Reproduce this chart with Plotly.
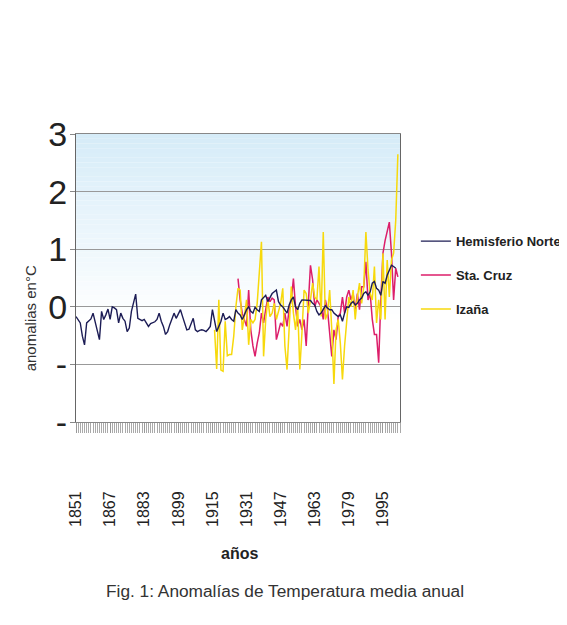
import plotly.graph_objects as go

# ---------------- data ----------------
years_nh = list(range(1851, 2002))
nh = [-0.17, -0.22, -0.28, -0.51, -0.66, -0.28, -0.24, -0.21, -0.11, -0.28,
      -0.43, -0.57, -0.08, -0.22, -0.14, -0.04, -0.22, 0.00, -0.02, -0.05,
      -0.28, -0.11, -0.20, -0.25, -0.43, -0.37, -0.08, 0.09, 0.22, -0.20,
      -0.22, -0.24, -0.22, -0.28, -0.34, -0.29, -0.28, -0.26, -0.22, -0.11,
      -0.25, -0.34, -0.48, -0.43, -0.31, -0.20, -0.11, -0.20, -0.11, -0.05,
      -0.17, -0.28, -0.40, -0.39, -0.28, -0.20, -0.40, -0.43, -0.41, -0.40,
      -0.41, -0.43, -0.39, -0.34, -0.05, -0.25, -0.43, -0.34, -0.25, -0.11,
      -0.22, -0.20, -0.17, -0.22, -0.25, -0.05,
      -0.11, -0.14, -0.22, -0.14, -0.05, 0.00, -0.08, -0.11, -0.01, -0.05,
      -0.08, 0.12, 0.17, 0.20, 0.09, 0.15, 0.23, 0.26, 0.29, 0.09,
      0.03, 0.00, -0.05, -0.11, 0.03, 0.12, 0.17, 0.00, -0.05, 0.06,
      0.12, 0.12, 0.12, 0.12, 0.11, 0.06, 0.03, -0.08, -0.14, -0.11,
      -0.05, 0.02, -0.02, -0.05, -0.05, -0.11, -0.14, -0.17, -0.14, -0.25,
      -0.11, 0.00, -0.01, 0.06, 0.09, 0.03, 0.06, 0.12, 0.15, 0.23,
      0.26, 0.20, 0.26, 0.41, 0.44, 0.32, 0.29, 0.20, 0.44, 0.41,
      0.55, 0.64, 0.72, 0.70, 0.67]

years_sc = list(range(1927, 2003))
sta_cruz = [0.49, 0.12, -0.11, -0.22, -0.34, 0.29, -0.40, -0.68, -0.86, -0.63,
            -0.45, -0.11, -0.28, -0.05, 0.17, 0.09, 0.15, 0.12, -0.57, -0.43,
            -0.28, -0.34, -0.11, -0.34, -0.05, 0.12, 0.49, 0.00, -0.34, -0.22,
            -0.40, -0.22, -0.68, 0.06, 0.72, 0.47, 0.00, 0.12, 0.06, 0.00,
            -0.22, 0.12, -0.05, -0.40, -0.86, -0.40, -0.57, -0.17, -0.11, 0.17,
            -0.11, 0.17, 0.29, 0.12, 0.23, -0.05, 0.23, -0.05, 0.35, 0.35,
            0.78, 0.12, 0.23, -0.22, -0.48, -0.48, -0.97, 0.12, 0.93, 1.15,
            1.33, 1.47, 0.93, 0.12, 0.67, 0.52]

years_iz = list(range(1916, 2003))
izana = [-0.40, -1.08, 0.12, -1.10, -1.12, -0.25, -0.85, -0.83, -0.83, -0.51,
         0.00, 0.32, 0.29, -0.40, -0.17, 0.12, -0.66, -0.22, -0.28, -0.22,
         0.06, 0.64, 1.13, -0.86, -0.22, 0.12, -0.17, -0.11, 0.06, -0.22,
         -0.05, 0.06, 0.32, -0.68, -1.09, -0.22, 0.35, -0.11, -0.40, 0.00,
         -1.09, -0.45, 0.29, 0.23, -0.11, 0.12, 0.41, 0.17, 0.12, 0.70,
         -0.17, 1.30, -0.22, -0.11, 0.29, -0.40, -1.34, -0.40, -0.22, -0.63,
         -1.26, -0.68, -0.22, 0.17, 0.00, 0.29, -0.22, 0.17, 0.41, 0.06,
         0.35, 1.30, 0.64, 0.23, 0.12, 0.70, -0.28, 0.12, -0.22, 0.93,
         -0.22, 0.81, 0.17, 0.81, 0.93, 1.50, 2.65]

tick_years = [1851, 1867, 1883, 1899, 1915, 1931, 1947, 1963, 1979, 1995]
y_ticks = [-2, -1, 0, 1, 2, 3]
y_ticktext = ["-", "-", "0", "1", "2", "3"]

# ---------------- figure ----------------
fig = go.Figure()

fig.add_trace(go.Scatter(x=years_sc, y=sta_cruz, mode="lines", name="Sta. Cruz",
                         legendgroup="sc", legendrank=2,
                         line=dict(color="#dc1e6a", width=1.5)))
fig.add_trace(go.Scatter(x=years_iz, y=izana, mode="lines", name="Izaña",
                         legendgroup="iz", legendrank=3,
                         line=dict(color="#f7d90c", width=1.5)))
fig.add_trace(go.Scatter(x=years_nh, y=nh, mode="lines", name="Hemisferio Norte",
                         legendgroup="nh", legendrank=1,
                         line=dict(color="#1c1c55", width=1.4)))

# gradient background (light blue at top fading to white)
n = 40
top, bot = 3.0, -0.3
for i in range(n):
    y1 = top - (top - bot) * i / n
    y0 = top - (top - bot) * (i + 1) / n
    t = i / (n - 1)
    r = round(214 + (255 - 214) * t)
    g = round(236 + (255 - 236) * t)
    b = round(248 + (255 - 248) * t)
    fig.add_shape(type="rect", xref="paper", yref="y", x0=0, x1=1, y0=y0, y1=y1,
                  fillcolor=f"rgb({r},{g},{b})", line=dict(width=0), layer="below")

# faint scan border line at top
fig.add_shape(type="line", xref="paper", yref="paper", x0=-0.3, x1=1.6,
              y0=1.448, y1=1.448, line=dict(color="#bbbbbb", width=1))

fig.update_layout(
    width=567, height=625,
    margin=dict(l=68, r=175, t=126, b=211, autoexpand=False),
    paper_bgcolor="white", plot_bgcolor="white",
    font=dict(family="Liberation Sans, Arial, sans-serif", color="#222"),
    showlegend=True,
    legend=dict(x=1.049, xanchor="left", y=0.68, yanchor="top",
                font=dict(family="Liberation Sans, Arial", size=13,
                          color="#222", weight="bold"),
                itemwidth=30, traceorder="grouped", tracegroupgap=14,
                bgcolor="rgba(0,0,0,0)"),
    xaxis=dict(range=[1851, 2003], tickmode="array", tickvals=tick_years,
               ticktext=[str(v) for v in tick_years], tickangle=-90,
               tickfont=dict(size=16, color="#222"), automargin=False,
               ticks="outside", ticklen=10, tickcolor="#999", ticklabelstandoff=52,
               minor=dict(dtick=1, tick0=1851, ticks="outside", ticklen=10,
                          tickcolor="#aaa", showgrid=False),
               showgrid=False, zeroline=False, showline=True, linecolor="#888",
               linewidth=1, mirror=True),
    yaxis=dict(range=[-2, 3], tickmode="array", tickvals=y_ticks, ticktext=y_ticktext,
               tickfont=dict(size=34, color="#222"), automargin=False,
               ticks="outside", ticklen=5, tickcolor="#888", ticklabelstandoff=-4,
               showgrid=True, gridcolor="#999", gridwidth=1, zeroline=False,
               showline=True, linecolor="#666", linewidth=1, mirror=True),
)

fig.add_annotation(text="anomalias en°C", xref="paper", yref="paper",
                   x=-0.142, y=0.36, xanchor="center", yanchor="middle",
                   textangle=-90, showarrow=False,
                   font=dict(size=15, color="#333"))
fig.add_annotation(text="<b>años</b>", xref="paper", yref="paper",
                   x=0.506, y=-0.455, xanchor="center", yanchor="middle",
                   showarrow=False, font=dict(size=16, color="#222"))
fig.add_annotation(text="Fig. 1: Anomalías de Temperatura media anual", xref="paper",
                   yref="paper", x=0.645, y=-0.587, xanchor="center", yanchor="middle",
                   showarrow=False, font=dict(size=17.3, color="#333"))

fig.write_html("out.html")
